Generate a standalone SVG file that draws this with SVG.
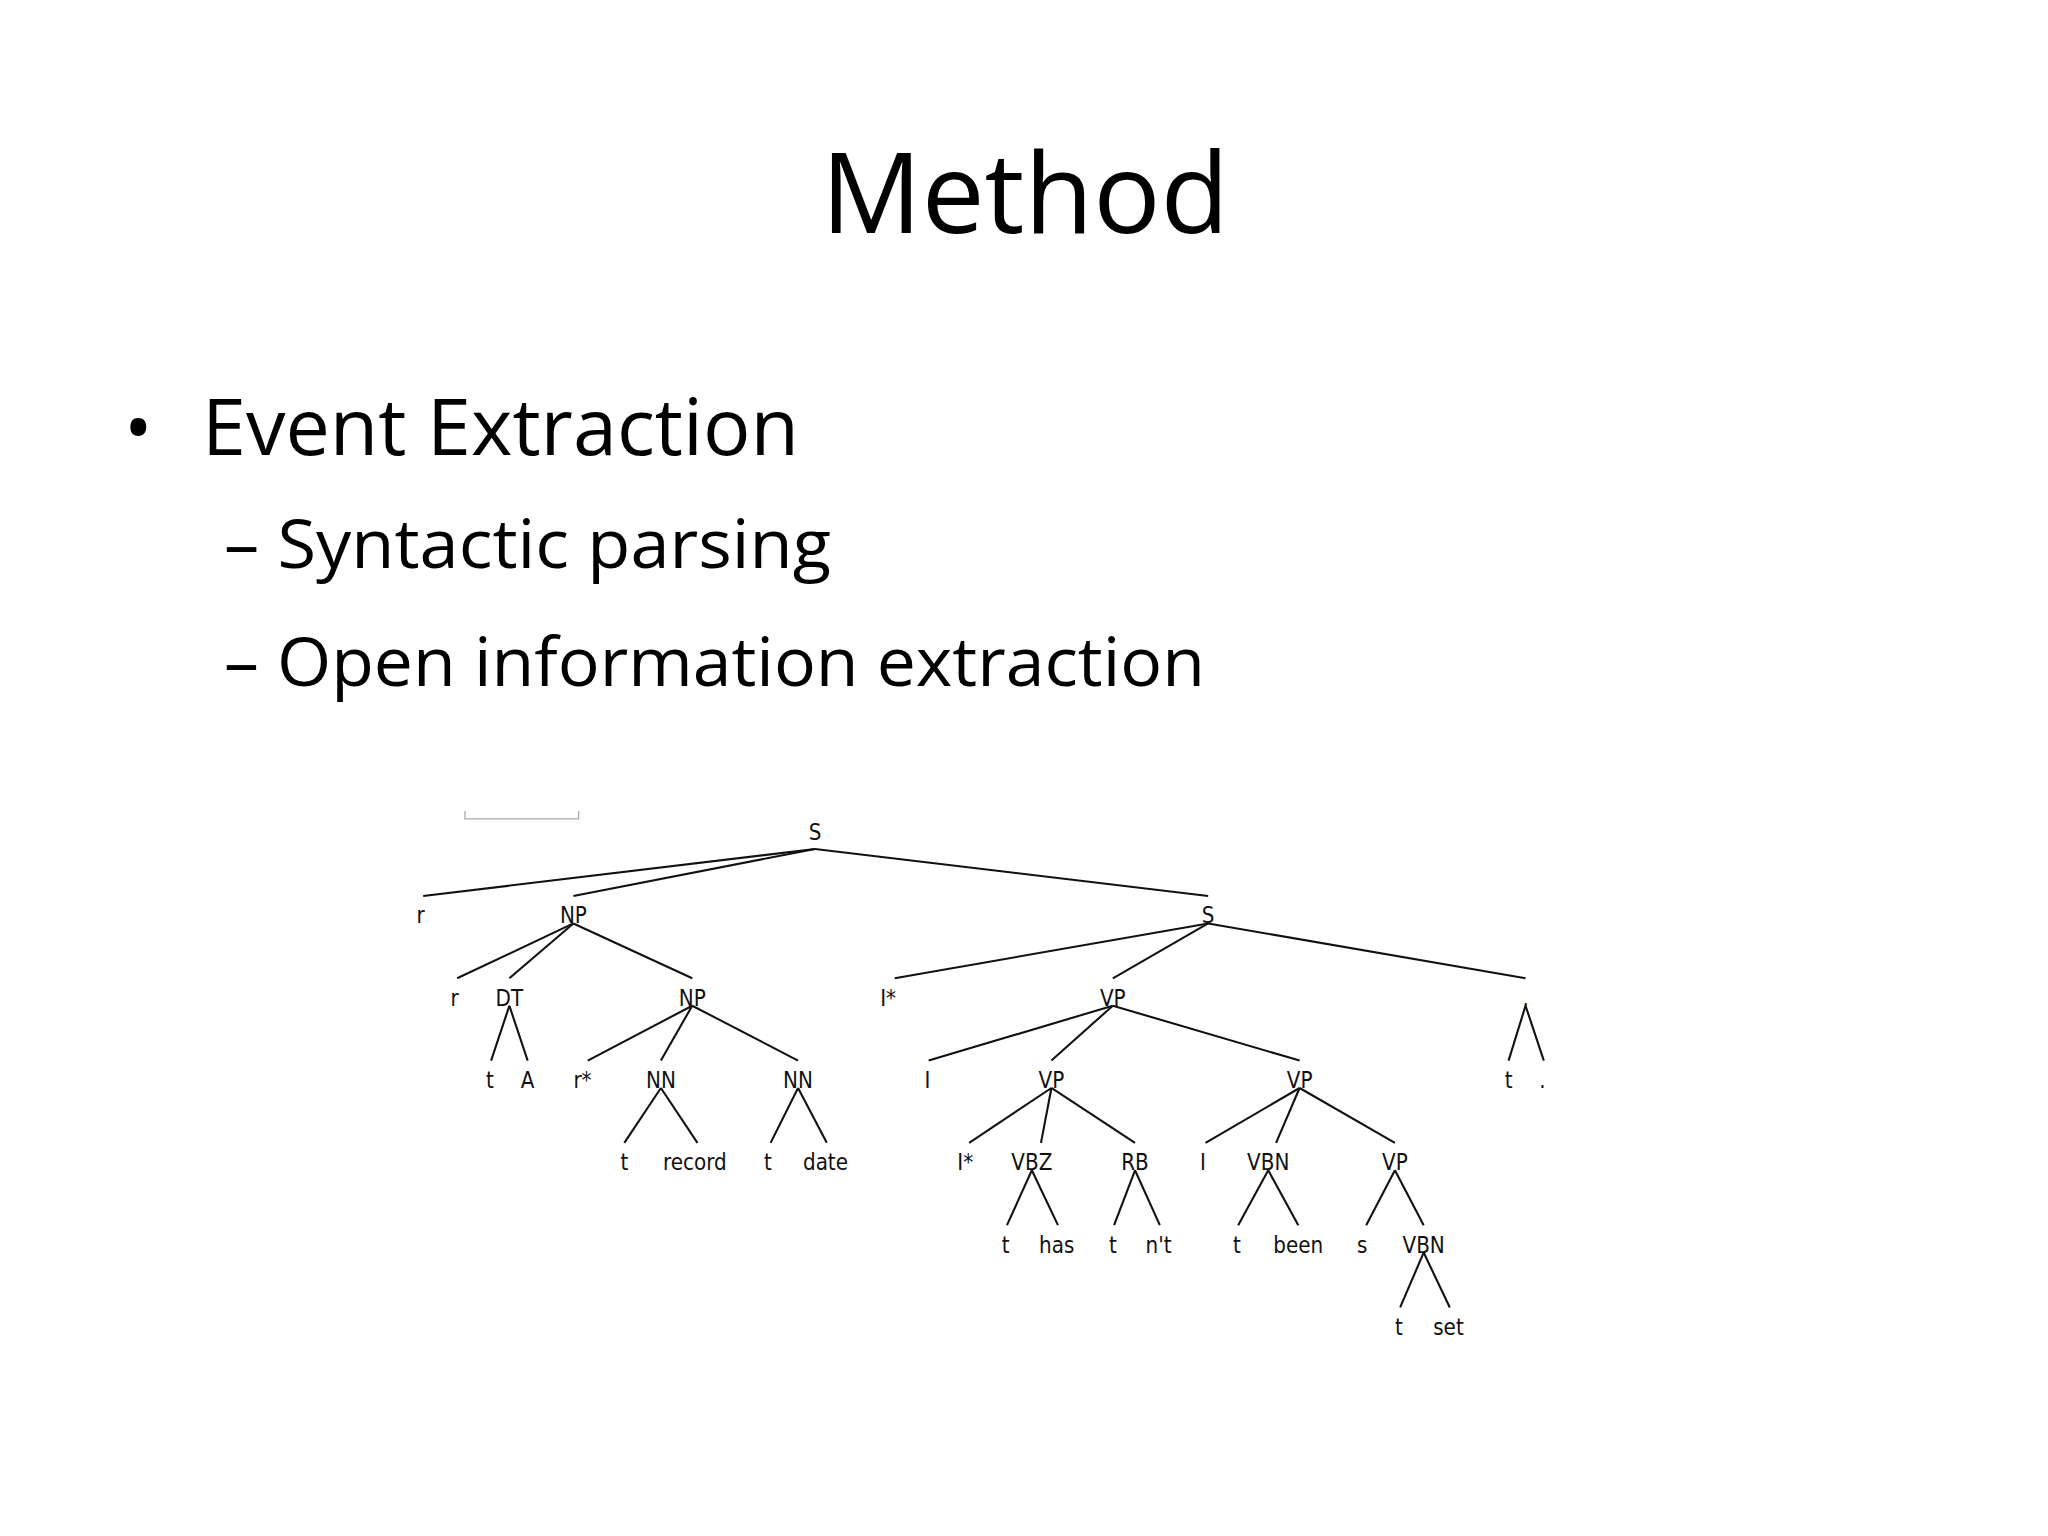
<svg xmlns="http://www.w3.org/2000/svg" width="2048" height="1536" viewBox="0 0 2048 1536">
<style>
.h{font-family:"Open Sans","Noto Sans",sans-serif;fill:#000}
.n{font-family:"DejaVu Sans Condensed","DejaVu Sans",sans-serif;font-size:17px;text-anchor:middle;fill:#111}
.e line{stroke:#111;stroke-width:1.6}
</style>
<rect width="2048" height="1536" fill="#fff"/>
<text class="h" x="1025" y="233" font-size="112" text-anchor="middle">Method</text>
<text class="h" x="124" y="455" font-size="76">•</text>
<text class="h" x="202" y="455" font-size="78" textLength="597" lengthAdjust="spacingAndGlyphs">Event Extraction</text>
<text class="h" x="224" y="568" font-size="68" textLength="607" lengthAdjust="spacingAndGlyphs">– Syntactic parsing</text>
<text class="h" x="224" y="686" font-size="68" textLength="981" lengthAdjust="spacingAndGlyphs">– Open information extraction</text>
<g transform="scale(1.30612)">
<path d="M356 621V627H443V621" fill="none" stroke="#aaa" stroke-width="1"/>
<g id="connectors" class="e">
<line x1="624" y1="650" x2="324" y2="686"/><line x1="624" y1="650" x2="439" y2="686"/><line x1="624" y1="650" x2="925" y2="686"/>
<line x1="439" y1="707" x2="350" y2="749"/><line x1="439" y1="707" x2="390" y2="749"/><line x1="439" y1="707" x2="530" y2="749"/>
<line x1="925" y1="707" x2="685" y2="749"/><line x1="925" y1="707" x2="852" y2="749"/><line x1="925" y1="707" x2="1168" y2="749"/>
<line x1="390" y1="770" x2="376" y2="812"/><line x1="390" y1="770" x2="404" y2="812"/>
<line x1="530" y1="770" x2="450" y2="812"/><line x1="530" y1="770" x2="506" y2="812"/><line x1="530" y1="770" x2="611" y2="812"/>
<line x1="852" y1="770" x2="711" y2="812"/><line x1="852" y1="770" x2="805" y2="812"/><line x1="852" y1="770" x2="995" y2="812"/>
<line x1="1168" y1="770" x2="1155" y2="812"/><line x1="1168" y1="770" x2="1182" y2="812"/>
<line x1="506" y1="833" x2="478" y2="875"/><line x1="506" y1="833" x2="534" y2="875"/>
<line x1="611" y1="833" x2="590" y2="875"/><line x1="611" y1="833" x2="633" y2="875"/>
<line x1="805" y1="833" x2="742" y2="875"/><line x1="805" y1="833" x2="797" y2="875"/><line x1="805" y1="833" x2="869" y2="875"/>
<line x1="995" y1="833" x2="923" y2="875"/><line x1="995" y1="833" x2="977" y2="875"/><line x1="995" y1="833" x2="1068" y2="875"/>
<line x1="790" y1="896" x2="771" y2="938"/><line x1="790" y1="896" x2="810" y2="938"/>
<line x1="869" y1="896" x2="853" y2="938"/><line x1="869" y1="896" x2="888" y2="938"/>
<line x1="971" y1="896" x2="948" y2="938"/><line x1="971" y1="896" x2="994" y2="938"/>
<line x1="1068" y1="896" x2="1046" y2="938"/><line x1="1068" y1="896" x2="1090" y2="938"/>
<line x1="1090" y1="959" x2="1072" y2="1001"/><line x1="1090" y1="959" x2="1110" y2="1001"/>
</g>
<g id="n-S"><text class="n" x="624" y="643">S</text></g>
<g id="n-r1"><text class="n" x="322" y="707">r</text></g>
<g id="n-NP1"><text class="n" x="439" y="707">NP</text></g>
<g id="n-S2"><text class="n" x="925" y="707">S</text></g>
<g id="n-r2"><text class="n" x="348" y="770">r</text></g>
<g id="n-DT"><text class="n" x="390" y="770">DT</text></g>
<g id="n-NP2"><text class="n" x="530" y="770">NP</text></g>
<g id="n-Istar1"><text class="n" x="680" y="770">I*</text></g>
<g id="n-VP1"><text class="n" x="852" y="770">VP</text></g>
<g id="n-dot1"><text class="n" x="1168" y="770">.</text></g>
<g id="n-t1"><text class="n" x="375" y="833">t</text></g>
<g id="n-A"><text class="n" x="404" y="833">A</text></g>
<g id="n-rstar"><text class="n" x="446" y="833">r*</text></g>
<g id="n-NN1"><text class="n" x="506" y="833">NN</text></g>
<g id="n-NN2"><text class="n" x="611" y="833">NN</text></g>
<g id="n-I1"><text class="n" x="710" y="833">I</text></g>
<g id="n-VP2"><text class="n" x="805" y="833">VP</text></g>
<g id="n-VP3"><text class="n" x="995" y="833">VP</text></g>
<g id="n-t2"><text class="n" x="1155" y="833">t</text></g>
<g id="n-dot2"><text class="n" x="1181" y="833">.</text></g>
<g id="n-t3"><text class="n" x="478" y="896">t</text></g>
<g id="n-record"><text class="n" x="532" y="896">record</text></g>
<g id="n-t4"><text class="n" x="588" y="896">t</text></g>
<g id="n-date"><text class="n" x="632" y="896">date</text></g>
<g id="n-Istar2"><text class="n" x="739" y="896">I*</text></g>
<g id="n-VBZ"><text class="n" x="790" y="896">VBZ</text></g>
<g id="n-RB"><text class="n" x="869" y="896">RB</text></g>
<g id="n-I2"><text class="n" x="921" y="896">I</text></g>
<g id="n-VBN1"><text class="n" x="971" y="896">VBN</text></g>
<g id="n-VP4"><text class="n" x="1068" y="896">VP</text></g>
<g id="n-t5"><text class="n" x="770" y="959">t</text></g>
<g id="n-has"><text class="n" x="809" y="959">has</text></g>
<g id="n-t6"><text class="n" x="852" y="959">t</text></g>
<g id="n-nt"><text class="n" x="887" y="959">n't</text></g>
<g id="n-t7"><text class="n" x="947" y="959">t</text></g>
<g id="n-been"><text class="n" x="994" y="959">been</text></g>
<g id="n-s"><text class="n" x="1043" y="959">s</text></g>
<g id="n-VBN2"><text class="n" x="1090" y="959">VBN</text></g>
<g id="n-t8"><text class="n" x="1071" y="1022">t</text></g>
<g id="n-set"><text class="n" x="1109" y="1022">set</text></g>
</g>
</svg>
